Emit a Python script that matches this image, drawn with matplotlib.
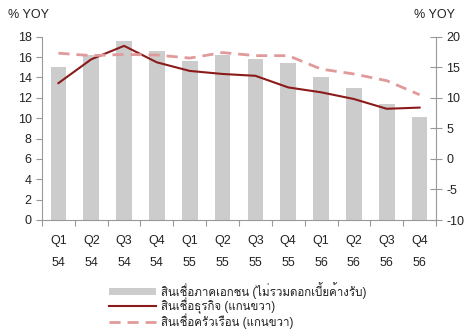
import matplotlib
matplotlib.use('Agg')
import matplotlib.pyplot as plt
from matplotlib import font_manager
import numpy as np

quarters = ['Q1', 'Q2', 'Q3', 'Q4'] * 3
years = ['54'] * 4 + ['55'] * 4 + ['56'] * 4
private_loans = [15.0, 16.2, 17.6, 16.55, 15.6, 16.25, 15.8, 15.45, 14.0, 13.0, 11.35, 10.1]
business_loans = [12.4, 16.3, 18.5, 15.8, 14.4, 13.9, 13.6, 11.7, 10.9, 9.8, 8.2, 8.4]
household_loans = [17.3, 16.9, 17.1, 17.0, 16.5, 17.4, 16.9, 16.9, 14.7, 13.9, 12.8, 10.5]

labels = ['สินเชื่อภาคเอกชน (ไม่รวมดอกเบี้ยค้างรับ)',
          'สินเชื่อธุรกิจ (แกนขวา)',
          'สินเชื่อครัวเรือน (แกนขวา)']

# หา font ที่มีภาษาไทย
thai_fonts = []
for f in font_manager.fontManager.ttflist:
    n = f.name
    if 'Thai' in n or n in ('Loma', 'Garuda', 'Kinnari', 'Norasi', 'Sawasdee', 'Umpush', 'Waree', 'Purisa', 'Tlwg Typo'):
        if n not in thai_fonts:
            thai_fonts.append(n)
plt.rcParams['font.family'] = ['Liberation Sans'] + thai_fonts + ['DejaVu Sans']
plt.rcParams['axes.unicode_minus'] = False

fig = plt.figure(figsize=(4.67, 3.36), dpi=100)
ax = fig.add_axes([42 / 467, 1 - 220 / 336, (436 - 42) / 467, (220 - 36.7) / 336])
ax2 = ax.twinx()

x = np.arange(len(quarters))
bars = ax.bar(x, private_loans, width=0.48, color='#cccccc', zorder=1)
l1, = ax2.plot(x, business_loans, color='#8b1a1a', linewidth=1.5)
l2, = ax2.plot(x, household_loans, color='#e09a9a', linewidth=2, linestyle=(0, (4, 2.5)))

ax.set_xlim(-0.5, 11.5)
ax.set_ylim(0, 18)
ax.set_yticks(range(0, 19, 2))
ax2.set_ylim(-10, 20)
ax2.set_yticks(range(-10, 21, 5))

# เส้นแบ่งระหว่างไตรมาส (major) และป้ายกำกับตรงกลางแท่ง (minor)
ax.set_xticks(np.arange(-0.5, 12, 1), minor=False)
ax.set_xticklabels([])
ax.set_xticks(x, minor=True)
ax.set_xticklabels([q + '\n' + y for q, y in zip(quarters, years)], minor=True)
ax.tick_params(axis='x', which='minor', length=0, pad=11, labelsize=9, colors='#222222')
ax.tick_params(axis='x', which='major', length=4, direction='out', color='#999999')
ax.tick_params(axis='y', length=4, direction='out', color='#999999', labelsize=9, labelcolor='#222222')
ax2.tick_params(axis='y', length=8, direction='inout', color='#999999', labelsize=9, labelcolor='#222222')

for a in (ax, ax2):
    a.spines['top'].set_visible(False)
    for s in ('left', 'right', 'bottom'):
        a.spines[s].set_color('#999999')
ax.spines['right'].set_visible(False)
ax2.spines['left'].set_visible(False)
ax2.spines['bottom'].set_visible(False)

for t in ax.get_xticklabels(minor=True):
    t.set_linespacing(2.1)

fig.text(8 / 467, 1 - 15 / 336, '% YOY', fontsize=9, va='center', ha='left', color='#222222')
fig.text(455 / 467, 1 - 15 / 336, '% YOY', fontsize=9, va='center', ha='right', color='#222222')

leg = fig.legend([bars, l1, l2], labels, loc='upper left', bbox_to_anchor=(104 / 467, 1 - 277 / 336),
                 frameon=False, fontsize=8.3, handlelength=4.1, handleheight=0.65, handletextpad=0.45,
                 labelspacing=-0.1, borderaxespad=0)
for t in leg.get_texts():
    t.set_color('#222222')

fig.savefig('out.png', dpi=100)
